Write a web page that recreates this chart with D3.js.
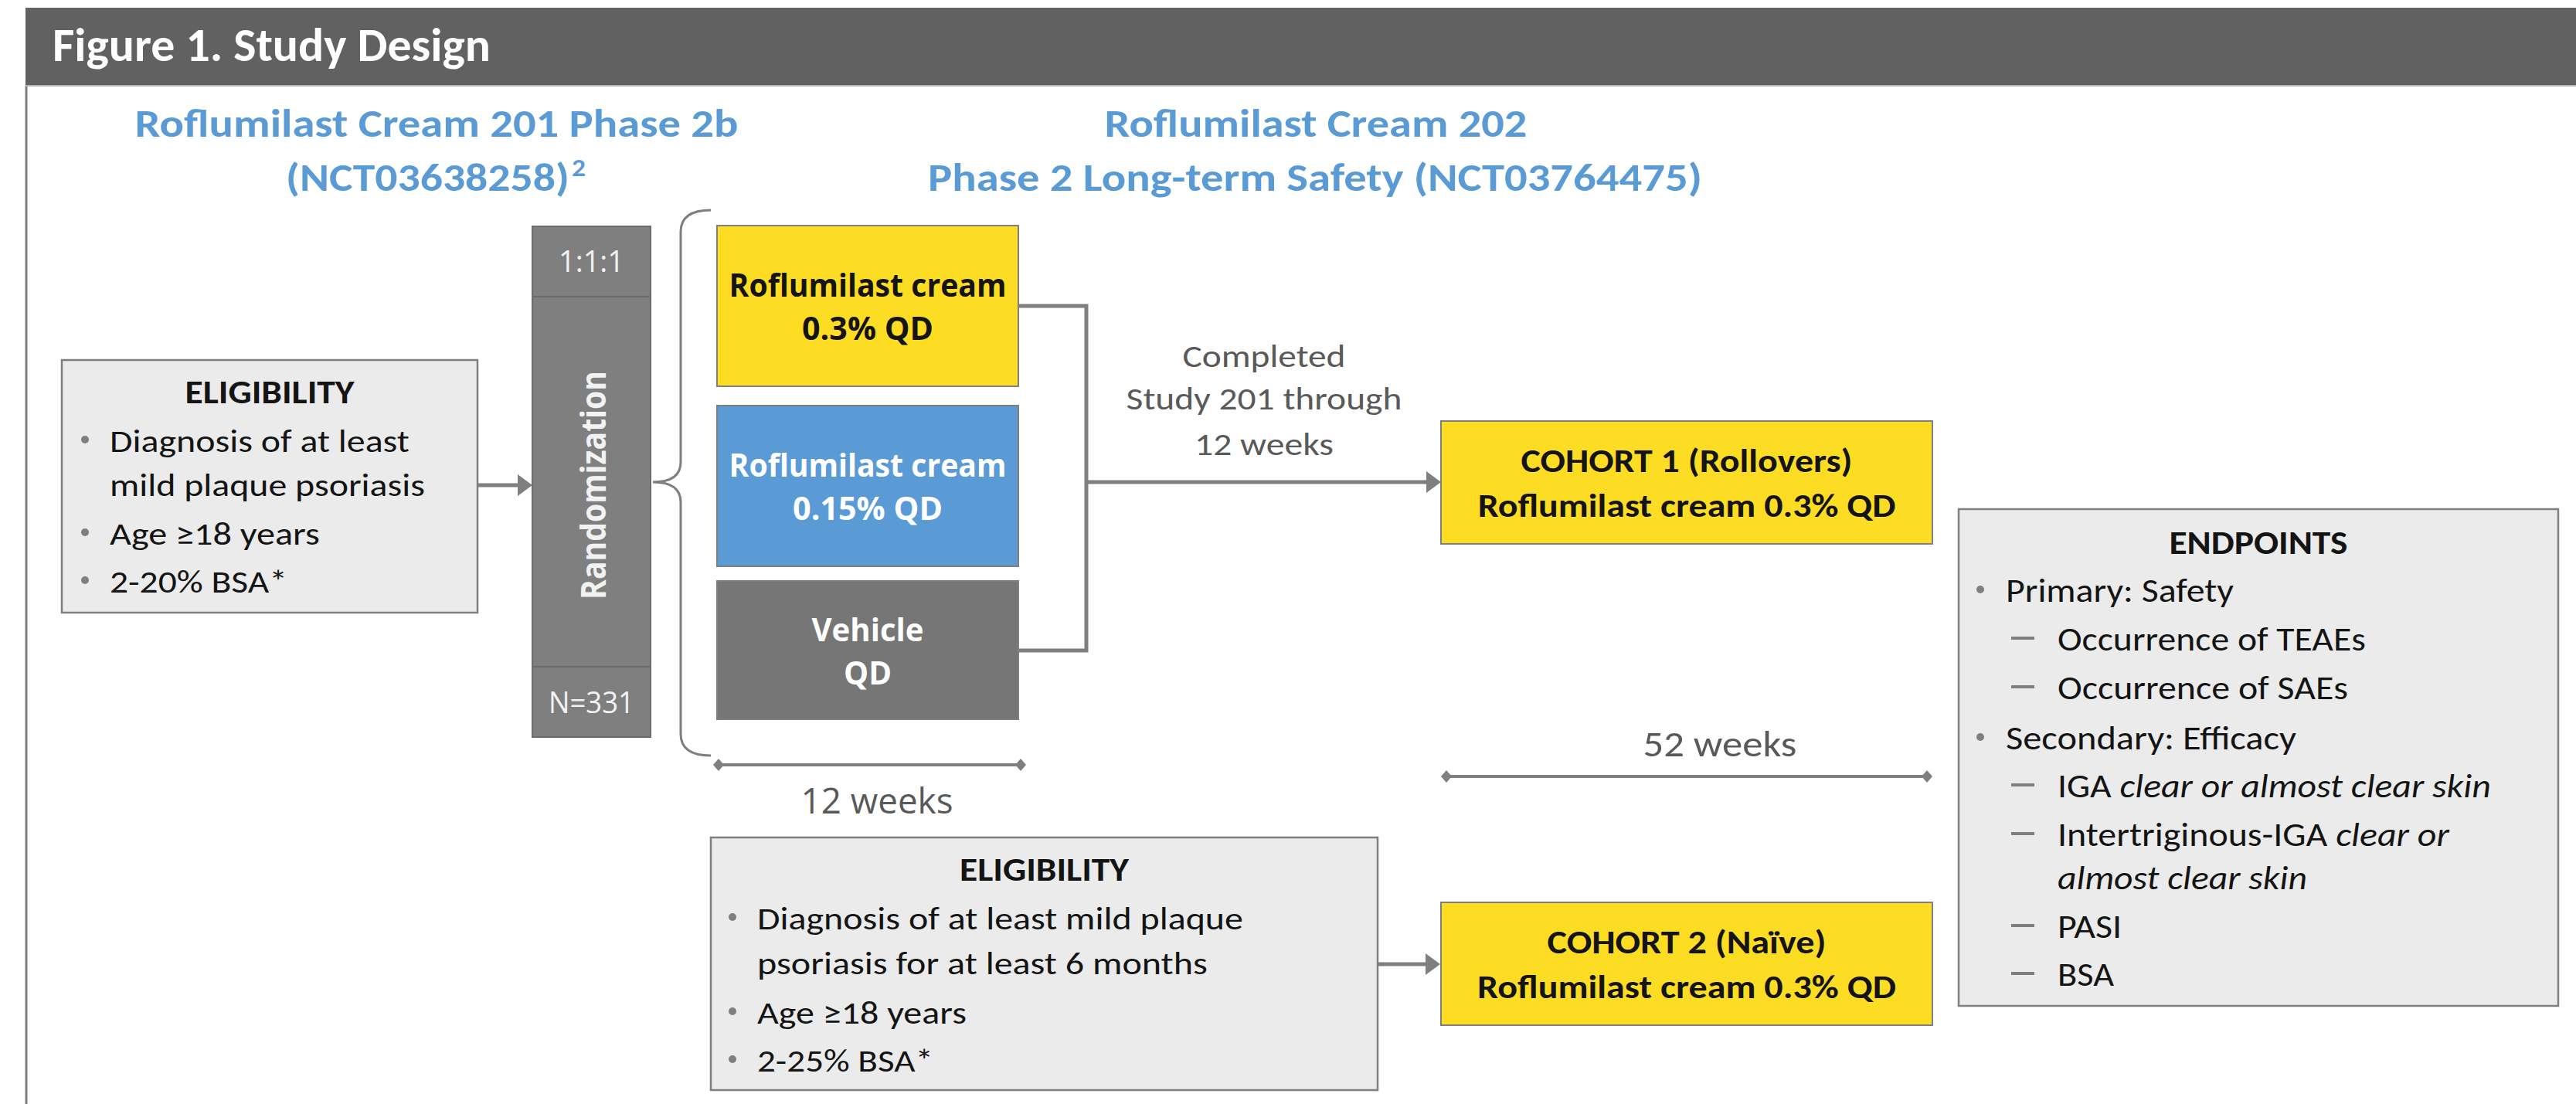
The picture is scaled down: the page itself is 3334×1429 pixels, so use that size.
<!DOCTYPE html>
<html>
<head>
<meta charset="utf-8">
<title>Figure 1. Study Design</title>
<script src="https://d3js.org/d3.v7.min.js"></script>
<style>
  body { margin: 0; background: #fff; }
  svg { display: block; }
  text { white-space: pre; }
</style>
</head>
<body>
<div id="chart"></div>
<script>
// ---- content of the figure ----
var figTitle = "Figure 1. Study Design";
var study201 = ["Roflumilast Cream 201 Phase 2b", "(NCT03638258)", "2"];
var study202 = ["Roflumilast Cream 202", "Phase 2 Long-term Safety (NCT03764475)"];
var ratio = "1:1:1";
var nTotal = "N=331";
var randLabel = "Randomization";
var armLabels = [["Roflumilast cream", "0.3% QD"], ["Roflumilast cream", "0.15% QD"], ["Vehicle", "QD"]];
var elig201 = [["Diagnosis of at least", "mild plaque psoriasis"], ["Age \u226518 years"], ["2-20% BSA*"]];
var elig202 = [["Diagnosis of at least mild plaque", "psoriasis for at least 6 months"], ["Age \u226518 years"], ["2-25% BSA*"]];
var rolloverNote = ["Completed", "Study 201 through", "12 weeks"];
var cohorts = [["COHORT 1 (Rollovers)", "Roflumilast cream 0.3% QD"], ["COHORT 2 (Na\u00efve)", "Roflumilast cream 0.3% QD"]];
var durationWeeks = [12, 52];
// endpoint rows: level 0 = bullet, 1 = dash, 2 = continuation; parts [text, italic]
var endpointLevels = [0, 1, 1, 0, 1, 1, 2, 1, 1];
var endpointParts = [
  [["Primary: Safety", 0]],
  [["Occurrence of TEAEs", 0]],
  [["Occurrence of SAEs", 0]],
  [["Secondary: Efficacy", 0]],
  [["IGA ", 0], ["clear or almost clear skin", 1]],
  [["Intertriginous-IGA ", 0], ["clear or", 1]],
  [["almost clear skin", 1]],
  [["PASI", 0]],
  [["BSA", 0]]
];

// ---- styles ----
var W = 3334, H = 1429;
var CAL = "Calibri, Carlito, Lato, 'DejaVu Sans', sans-serif";
var SEG = "'Segoe UI', 'Open Sans', 'Noto Sans', sans-serif";
var GREY = "#7f7f7f", BOXFILL = "#ebebeb", INK = "#141414", BLUE = "#5b9bd5", YELLOW = "#fddc24";
var armFill = [YELLOW, BLUE, "#767676"];
var armInk = [INK, "#ffffff", "#ffffff"];

var svg = d3.select("#chart").append("svg")
    .attr("width", W)
    .attr("height", H);

// text helper: draws text and squeezes it to the width measured on the figure
function txt(parent, o) {
  var g = parent.append("g");
  var t = g.append("text")
      .attr("text-anchor", o.anchor || "middle")
      .attr("font-family", o.family || CAL)
      .attr("font-size", o.size)
      .attr("font-weight", o.weight || "normal")
      .attr("fill", o.fill || INK);
  var parts = typeof o.s === "string" ? [[o.s, 0]] : o.s;
  t.selectAll("tspan").data(parts).enter().append("tspan")
      .attr("font-style", function(d) { return d[1] ? "italic" : "normal"; })
      .text(function(d) { return d[0]; });
  var k = 1;
  if (o.w) {
    var n = t.node().getComputedTextLength();
    if (n > 0) k = o.w / n;
  }
  g.attr("transform", "translate(" + o.x + "," + o.y + ")" + (o.rot ? " rotate(" + o.rot + ")" : "") + " scale(" + k + ",1)");
  return g;
}

function box(x, y, w, h, fill, stroke, sw) {
  return svg.append("rect")
      .attr("x", x).attr("y", y)
      .attr("width", w).attr("height", h)
      .attr("fill", fill)
      .attr("stroke", stroke || GREY)
      .attr("stroke-width", sw || 2);
}

function arrow(x1, x2, y) {
  svg.append("line")
      .attr("x1", x1).attr("x2", x2 - 16)
      .attr("y1", y).attr("y2", y)
      .attr("stroke", GREY).attr("stroke-width", 5);
  svg.append("path")
      .attr("d", "M" + (x2 - 19) + "," + (y - 14) + "L" + x2 + "," + y + "L" + (x2 - 19) + "," + (y + 14) + "Z")
      .attr("fill", GREY);
}

function span(x1, x2, y) {
  svg.append("line")
      .attr("x1", x1).attr("x2", x2)
      .attr("y1", y).attr("y2", y)
      .attr("stroke", GREY).attr("stroke-width", 4);
  [x1, x2].forEach(function(cx) {
    svg.append("path")
        .attr("d", "M" + (cx - 7) + "," + y + "L" + cx + "," + (y - 8) + "L" + (cx + 7) + "," + y + "L" + cx + "," + (y + 8) + "Z")
        .attr("fill", GREY);
  });
}

// ---- frame and header ----
svg.append("line")
    .attr("x1", 34).attr("x2", 34).attr("y1", 110).attr("y2", H)
    .attr("stroke", GREY).attr("stroke-width", 3);
svg.append("rect")
    .attr("x", 33).attr("y", 10)
    .attr("width", W - 33).attr("height", 101)
    .attr("fill", "#616161");
svg.append("line")
    .attr("x1", 33).attr("x2", W).attr("y1", 111).attr("y2", 111)
    .attr("stroke", "#b5b5b5").attr("stroke-width", 2);
txt(svg, {x: 68, y: 79, s: figTitle, anchor: "start", size: 60, weight: "bold", fill: "#ffffff", w: 567});

// study headings
txt(svg, {x: 565, y: 177, s: study201[0], size: 50, weight: "bold", fill: BLUE, w: 781});
txt(svg, {x: 370, y: 247, s: study201[1], anchor: "start", size: 50, weight: "bold", fill: BLUE, w: 367});
txt(svg, {x: 740, y: 228, s: study201[2], anchor: "start", size: 32, weight: "bold", fill: BLUE, w: 18});
txt(svg, {x: 1703, y: 177, s: study202[0], size: 50, weight: "bold", fill: BLUE, w: 547});
txt(svg, {x: 1702, y: 247, s: study202[1], size: 50, weight: "bold", fill: BLUE, w: 1002});

// ---- eligibility boxes ----
function eligBox(items, bx, by, bw, bh, titleY, textX, bulletX, baselines, widths) {
  box(bx, by, bw, bh, BOXFILL, GREY, 2.5);
  txt(svg, {x: bx + bw / 2, y: titleY, s: "ELIGIBILITY", size: 42, weight: "bold", w: 219});
  var k = 0;
  items.forEach(function(lines) {
    svg.append("circle")
        .attr("cx", bulletX).attr("cy", baselines[k] - 16).attr("r", 5)
        .attr("fill", GREY);
    lines.forEach(function(line) {
      txt(svg, {x: textX, y: baselines[k], s: line, anchor: "start", size: 42, w: widths[k]});
      k++;
    });
  });
}
eligBox(elig201, 80, 466, 538, 327, 522, 142, 110, [585, 642, 705, 767], [388, 408, 272, 230]);
eligBox(elig202, 920, 1084, 863, 327, 1140, 980, 948, [1203, 1261, 1325, 1387], [629, 583, 271, 228]);
arrow(618, 689, 628);
arrow(1783, 1864, 1248);

// ---- randomization column ----
box(689, 293, 153, 661, GREY, "#6b6b6b", 2);
[384, 863].forEach(function(y) {
  svg.append("line")
      .attr("x1", 689).attr("x2", 842).attr("y1", y).attr("y2", y)
      .attr("stroke", "#6b6b6b").attr("stroke-width", 2);
});
txt(svg, {x: 765.5, y: 352, s: ratio, family: SEG, size: 38, fill: "#f2f2f2", w: 85});
txt(svg, {x: 765.5, y: 923, s: nTotal, family: SEG, size: 38, fill: "#f2f2f2", w: 111});
txt(svg, {x: 784, y: 628, s: randLabel, family: SEG, size: 45, weight: "bold", fill: "#f2f2f2", w: 296, rot: -90});

// brace
svg.append("path")
    .attr("d", "M920,272 Q881,272 881,300 L881,598 Q881,624 845,624 Q881,624 881,650 L881,950 Q881,978 920,978")
    .attr("fill", "none").attr("stroke", GREY).attr("stroke-width", 3);

// ---- treatment arms ----
var armTop = [292, 525, 752], armH = [208, 208, 179], armX = 928, armW = 390;
var armW1 = [359, 359, 145], armW2 = [170, 194, 62];
var arms = svg.selectAll("g.arm").data(armLabels).enter().append("g").attr("class", "arm");
arms.append("rect")
    .attr("x", armX)
    .attr("y", function(d, i) { return armTop[i]; })
    .attr("width", armW)
    .attr("height", function(d, i) { return armH[i]; })
    .attr("fill", function(d, i) { return armFill[i]; })
    .attr("stroke", GREY).attr("stroke-width", 2);
armLabels.forEach(function(d, i) {
  var cy = armTop[i] + armH[i] / 2;
  txt(svg, {x: armX + armW / 2, y: cy - 12, s: d[0], family: SEG, size: 41, weight: "bold", fill: armInk[i], w: armW1[i]});
  txt(svg, {x: armX + armW / 2, y: cy + 44, s: d[1], family: SEG, size: 41, weight: "bold", fill: armInk[i], w: armW2[i]});
});
span(930, 1321, 990);
txt(svg, {x: 1135, y: 1053, s: durationWeeks[0] + " weeks", family: SEG, size: 46, fill: "#595959", w: 197});

// rollover connector
svg.append("path")
    .attr("d", "M1318,396 H1406 V842 H1318")
    .attr("fill", "none").attr("stroke", GREY).attr("stroke-width", 5);
arrow(1406, 1865, 624);
var noteY = [475, 530, 589], noteW = [211, 357, 180];
rolloverNote.forEach(function(s, i) {
  txt(svg, {x: 1636, y: noteY[i], s: s, size: 42, fill: "#595959", w: noteW[i]});
});

// ---- cohorts ----
var cohortTop = [545, 1168], cohortX = 1865, cohortW = 636, cohortH = 159;
var cohortW1 = [429, 361], cohortW2 = [541, 542];
cohorts.forEach(function(c, i) {
  box(cohortX, cohortTop[i], cohortW, cohortH, YELLOW, GREY, 2);
  txt(svg, {x: cohortX + cohortW / 2, y: cohortTop[i] + 66, s: c[0], size: 42, weight: "bold", w: cohortW1[i]});
  txt(svg, {x: cohortX + cohortW / 2, y: cohortTop[i] + 124, s: c[1], size: 42, weight: "bold", w: cohortW2[i]});
});
span(1872, 2494, 1005);
txt(svg, {x: 2226, y: 979, s: durationWeeks[1] + " weeks", size: 47, fill: "#595959", w: 199});

// ---- endpoints ----
box(2535, 659, 776, 643, BOXFILL, GREY, 2.5);
txt(svg, {x: 2923, y: 717, s: "ENDPOINTS", size: 43, weight: "bold", w: 231});
var epY = [779, 842, 905, 970, 1032, 1095, 1151, 1214, 1276];
var epW = [295, 399, 376, 376, 561, 507, 323, 83, 73];
endpointParts.forEach(function(parts, i) {
  var lvl = endpointLevels[i];
  if (lvl === 0) {
    svg.append("circle").attr("cx", 2563).attr("cy", epY[i] - 16).attr("r", 5).attr("fill", GREY);
  } else if (lvl === 1) {
    svg.append("line")
        .attr("x1", 2603).attr("x2", 2633)
        .attr("y1", epY[i] - 16).attr("y2", epY[i] - 16)
        .attr("stroke", GREY).attr("stroke-width", 4);
  }
  txt(svg, {x: lvl === 0 ? 2596 : 2663, y: epY[i], s: parts, anchor: "start", size: 44, w: epW[i]});
});
</script>
</body>
</html>
